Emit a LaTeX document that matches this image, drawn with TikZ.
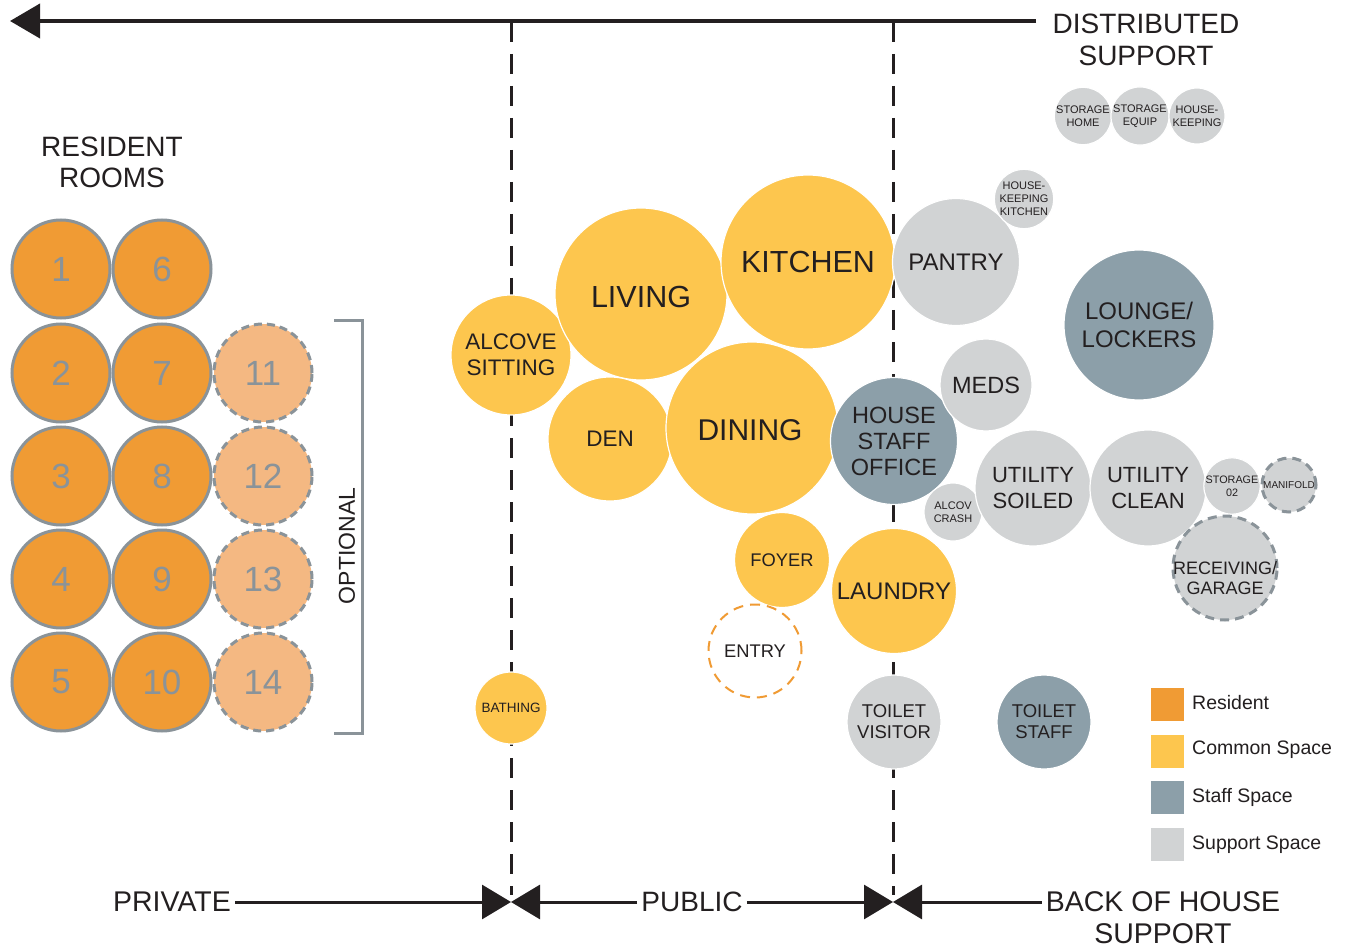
\documentclass[tikz,border=0pt]{standalone}
\usepackage{fontspec}
\setmainfont{Liberation Sans}
\usetikzlibrary{arrows.meta}
\definecolor{res}{HTML}{F09B34}
\definecolor{resopt}{HTML}{F4B882}
\definecolor{commonc}{HTML}{FDC64E}
\definecolor{staffc}{HTML}{8C9FA9}
\definecolor{supportc}{HTML}{D1D3D4}
\definecolor{ring}{HTML}{8A9399}
\definecolor{ink}{HTML}{231F20}
\newcommand\fs[2]{\fontsize{#1}{#2}\selectfont}
\tikzset{
  room/.style={circle, minimum size=98pt, inner sep=0pt, fill=res, draw=ring, line width=3pt, text=ring, font=\fs{35}{40}},
  optroom/.style={room, fill=resopt, dash pattern=on 8pt off 5pt},
  spc/.style={circle, inner sep=0pt, draw=white, line width=1.2pt, text=ink, align=center},
  comm/.style={spc, fill=commonc},
  staf/.style={spc, fill=staffc},
  supp/.style={spc, fill=supportc},
  dashring/.style={draw=ring, line width=3pt, dash pattern=on 9pt off 6pt},
  vdiv/.style={draw=ink, line width=3pt, dash pattern=on 20pt off 12pt},
  lbl/.style={text=ink, align=center, inner sep=4pt},
  legsq/.style={minimum size=33pt, inner sep=0pt},
  legtx/.style={text=ink, anchor=west, inner sep=0pt, font=\fs{19.5}{23}},
  zarrow/.style={draw=ink, line width=3pt, -{Triangle[length=29pt,width=34pt]}},
}
\begin{document}
\begin{tikzpicture}[x=1pt,y=-1pt]
\useasboundingbox[fill=white] (0,0) rectangle (1351,949);

% top arrow and labels
\node[lbl, font=\fs{28}{32}] (dist) at (1146,24) {DISTRIBUTED};
\node[lbl, font=\fs{28}{32}] (distb) at (1146,56) {SUPPORT};
\coordinate (toptip) at (10,21);
\draw[draw=ink, line width=4pt, -{Triangle[length=30pt,width=34pt]}] (1036,21) -- (toptip);

% dashed dividers
\coordinate (d1t) at (511,22);
\coordinate (d1b) at (511,895);
\coordinate (d2t) at (893,22);
\coordinate (d2b) at (893,895);
\draw[vdiv] (d1t) -- (d1b);
\draw[vdiv] (d2t) -- (d2b);

% resident rooms
\node[lbl, font=\fs{28}{31}] (resA) at (112,147) {RESIDENT};
\node[lbl, font=\fs{28}{31}] (resB) at (112,178) {ROOMS};
\node[room] (r1) at (61,269) {1};
\node[room] (r2) at (61,373) {2};
\node[room] (r3) at (61,476) {3};
\node[room] (r4) at (61,579) {4};
\node[room] (r5) at (61,682) {5};
\node[room] (r6) at (162,269) {6};
\node[room] (r7) at (162,373) {7};
\node[room] (r8) at (162,476) {8};
\node[room] (r9) at (162,579) {9};
\node[room] (r10) at (162,682) {10};
\node[optroom] (r11) at (263,373) {11};
\node[optroom] (r12) at (263,476) {12};
\node[optroom] (r13) at (263,579) {13};
\node[optroom] (r14) at (263,682) {14};
\draw[draw=ring, line width=3pt] (334,321) -- (362,321) -- (362,733) -- (334,733);
\node[lbl, rotate=90, font=\fs{23}{27}] (opt) at (347,546) {OPTIONAL};

% common spaces
\node[comm, minimum size=120pt, font=\fs{22.5}{26}] (alcove) at (511,355) {ALCOVE\\SITTING};
\node[comm, minimum size=172pt] (living) at (641,294) {};
\node[text=ink, font=\fs{30.5}{34}] (livingt) at (641,297) {LIVING};
\node[comm, minimum size=174pt, font=\fs{30.5}{34}] (kitchen) at (808,262) {KITCHEN};
\node[comm, minimum size=124pt, font=\fs{22.5}{26}] (den) at (610,439) {DEN};
\node[comm, minimum size=172pt] (dining) at (752,428) {};
\node[text=ink, font=\fs{30}{34}] (diningt) at (750,430) {DINING};
\node[comm, minimum size=95pt, font=\fs{18.3}{21}] (foyer) at (782,560) {FOYER};
\node[comm, minimum size=125pt, font=\fs{24}{28}] (laundry) at (894,591) {LAUNDRY};
\node[comm, minimum size=72pt, font=\fs{13.5}{16}] (bathing) at (511,708) {BATHING};
\node[circle, minimum size=93pt, inner sep=0pt, draw=res, line width=2pt, dash pattern=on 10pt off 7pt, text=ink, font=\fs{18.3}{21}] (entry) at (755,651) {ENTRY};

% staff spaces
\node[staf, minimum size=127pt, font=\fs{23.5}{26}] (office) at (894,441) {HOUSE\\STAFF\\OFFICE};
\node[staf, minimum size=150pt, font=\fs{24}{28}] (lounge) at (1139,325) {LOUNGE/\\LOCKERS};
\node[staf, minimum size=94pt, font=\fs{18.5}{21}] (toiletst) at (1044,722) {TOILET\\STAFF};

% support spaces
\node[supp, minimum size=127pt, font=\fs{24}{28}] (pantry) at (956,262) {PANTRY};
\node[supp, minimum size=56pt, font=\fs{11}{13}] (hkk) at (1024,199) {HOUSE-\\KEEPING\\KITCHEN};
\node[supp, minimum size=92pt, font=\fs{23.5}{27}] (meds) at (986,385) {MEDS};
\node[supp, minimum size=58pt, font=\fs{11}{13}] (crash) at (953,512) {ALCOV\\CRASH};
\node[supp, minimum size=116pt, font=\fs{22}{26}] (soiled) at (1033,488) {UTILITY\\SOILED};
\node[supp, minimum size=116pt, font=\fs{22}{26}] (clean) at (1148,488) {UTILITY\\CLEAN};
\node[supp, minimum size=56pt, font=\fs{10.8}{13}] (st02) at (1232,486) {STORAGE\\02};
\node[supp, dashring, minimum size=54pt, font=\fs{10}{12}] (manifold) at (1289,485) {MANIFOLD};
\node[supp, dashring, minimum size=104pt] (receiving) at (1225,568) {};
\node[text=ink, align=center, font=\fs{18}{20}] (receivingt) at (1225,578) {RECEIVING/\\GARAGE};
\node[supp, minimum size=94pt, font=\fs{18.5}{21}] (toiletvis) at (894,722) {TOILET\\VISITOR};
\node[supp, minimum size=56pt, font=\fs{11}{13}] (sthome) at (1083,116) {STORAGE\\HOME};
\node[supp, minimum size=56pt, font=\fs{11}{13}] (steq) at (1140,116) {STORAGE\\EQUIP};
\node[supp, minimum size=56pt, font=\fs{11}{13}] (hk) at (1197,116) {HOUSE-\\KEEPING};

% legend
\node[legsq, fill=res] (lg1) at (1167.5,704) {};
\node[legsq, fill=commonc] (lg2) at (1167.5,751) {};
\node[legsq, fill=staffc] (lg3) at (1167.5,797) {};
\node[legsq, fill=supportc] (lg4) at (1167.5,844) {};
\node[legtx] (lt1) at (1192,703) {Resident};
\node[legtx] (lt2) at (1192,750) {Common Space};
\node[legtx] (lt3) at (1192,797) {Staff Space};
\node[legtx] (lt4) at (1192,845) {Support Space};

% bottom zones
\node[lbl, font=\fs{28.5}{32}] (private) at (172,902) {PRIVATE};
\node[lbl, font=\fs{28}{32}] (public) at (692,902) {PUBLIC};
\node[lbl, font=\fs{28.5}{32}] (boh) at (1163,902) {BACK OF HOUSE};
\node[lbl, font=\fs{28.5}{32}] (bohb) at (1163,934) {SUPPORT};
\coordinate (tipA) at (511,902);
\coordinate (tipB) at (893,902);
\draw[zarrow] (private.east) -- (tipA);
\draw[zarrow] (public.west) -- (tipA);
\draw[zarrow] (public.east) -- (tipB);
\draw[zarrow] (boh.west) -- (tipB);
\end{tikzpicture}
\end{document}
